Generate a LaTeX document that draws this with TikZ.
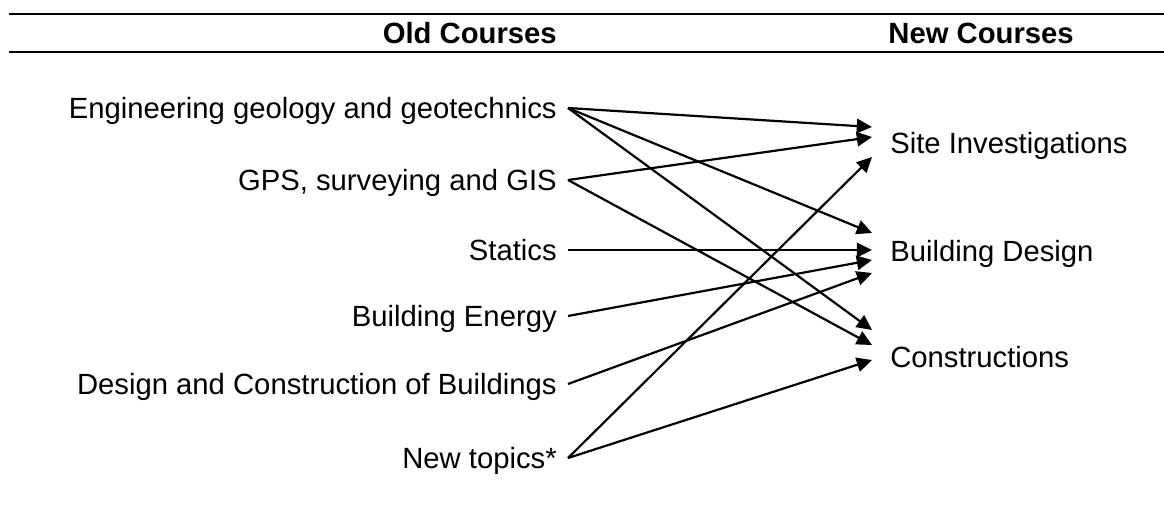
\documentclass[tikz,border=0pt]{standalone}
\usepackage{fontspec}
\setmainfont{Liberation Sans}
\usetikzlibrary{positioning,arrows.meta,calc}
\newcommand{\coursefont}{\fontsize{20.8}{25}\selectfont}
\tikzset{
  oldcourse/.style={anchor=east, inner xsep=0.275cm, inner ysep=0pt, text height=14.9pt, text depth=0pt, font=\coursefont},
  newcourse/.style={anchor=west, inner xsep=0.45cm, inner ysep=0pt, text height=14.9pt, text depth=0pt, font=\coursefont},
  header/.style={anchor=east, inner sep=0pt, text height=14.9pt, text depth=0pt, font=\coursefont\bfseries},
  maparrow/.style={-{Triangle[length=0.38cm, width=0.36cm]}, line width=0.055cm},
  rulebar/.style={line width=0.06cm}
}
\begin{document}
\begin{tikzpicture}[x=0.025cm, y=-0.025cm]
  \useasboundingbox (0,0) rectangle (1164,505);
  % table rules and headings
  \coordinate (ruleTL) at (9,14);
  \coordinate (ruleTR) at (1164,14);
  \coordinate (ruleBL) at (9,52);
  \coordinate (ruleBR) at (1164,52);
  \draw[rulebar] (ruleTL) -- (ruleTR);
  \draw[rulebar] (ruleBL) -- (ruleBR);
  \node[header] (oldhead) at (557,33) {Old Courses};
  \node[header] (newhead) at (1074,33) {New Courses};

  % old courses
  \node[oldcourse] (eng)  at (568,108) {Engineering geology and geotechnics};
  \node[oldcourse] (gps)  at (568,180) {GPS, surveying and GIS};
  \node[oldcourse] (stat) at (568,250) {Statics};
  \node[oldcourse] (ener) at (568,316) {Building Energy};
  \node[oldcourse] (dcb)  at (568,384) {Design and Construction of Buildings};
  \node[oldcourse] (newt) at (568,458) {New topics*};

  % new courses
  \node[newcourse] (site) at (872,143) {Site Investigations};
  \node[newcourse] (bdes) at (872,251) {Building Design};
  \node[newcourse] (cons) at (872,357) {Constructions};

  % mapping
  \draw[maparrow] (eng.east) -- ($(site.west)+(0,-16)$);
  \draw[maparrow] (eng.east) -- ($(bdes.west)+(0,-18)$);
  \draw[maparrow] (eng.east) -- ($(cons.west)+(0,-27)$);
  \draw[maparrow] (gps.east) -- ($(site.west)+(0,-6)$);
  \draw[maparrow] (gps.east) -- ($(cons.west)+(0,-12)$);
  \draw[maparrow] (stat.east) -- ($(bdes.west)+(0,-1)$);
  \draw[maparrow] (ener.east) -- ($(bdes.west)+(0,9)$);
  \draw[maparrow] (dcb.east) -- ($(bdes.west)+(0,22)$);
  \draw[maparrow] (newt.east) -- ($(site.west)+(0,14)$);
  \draw[maparrow] (newt.east) -- ($(cons.west)+(0,3)$);
\end{tikzpicture}
\end{document}
